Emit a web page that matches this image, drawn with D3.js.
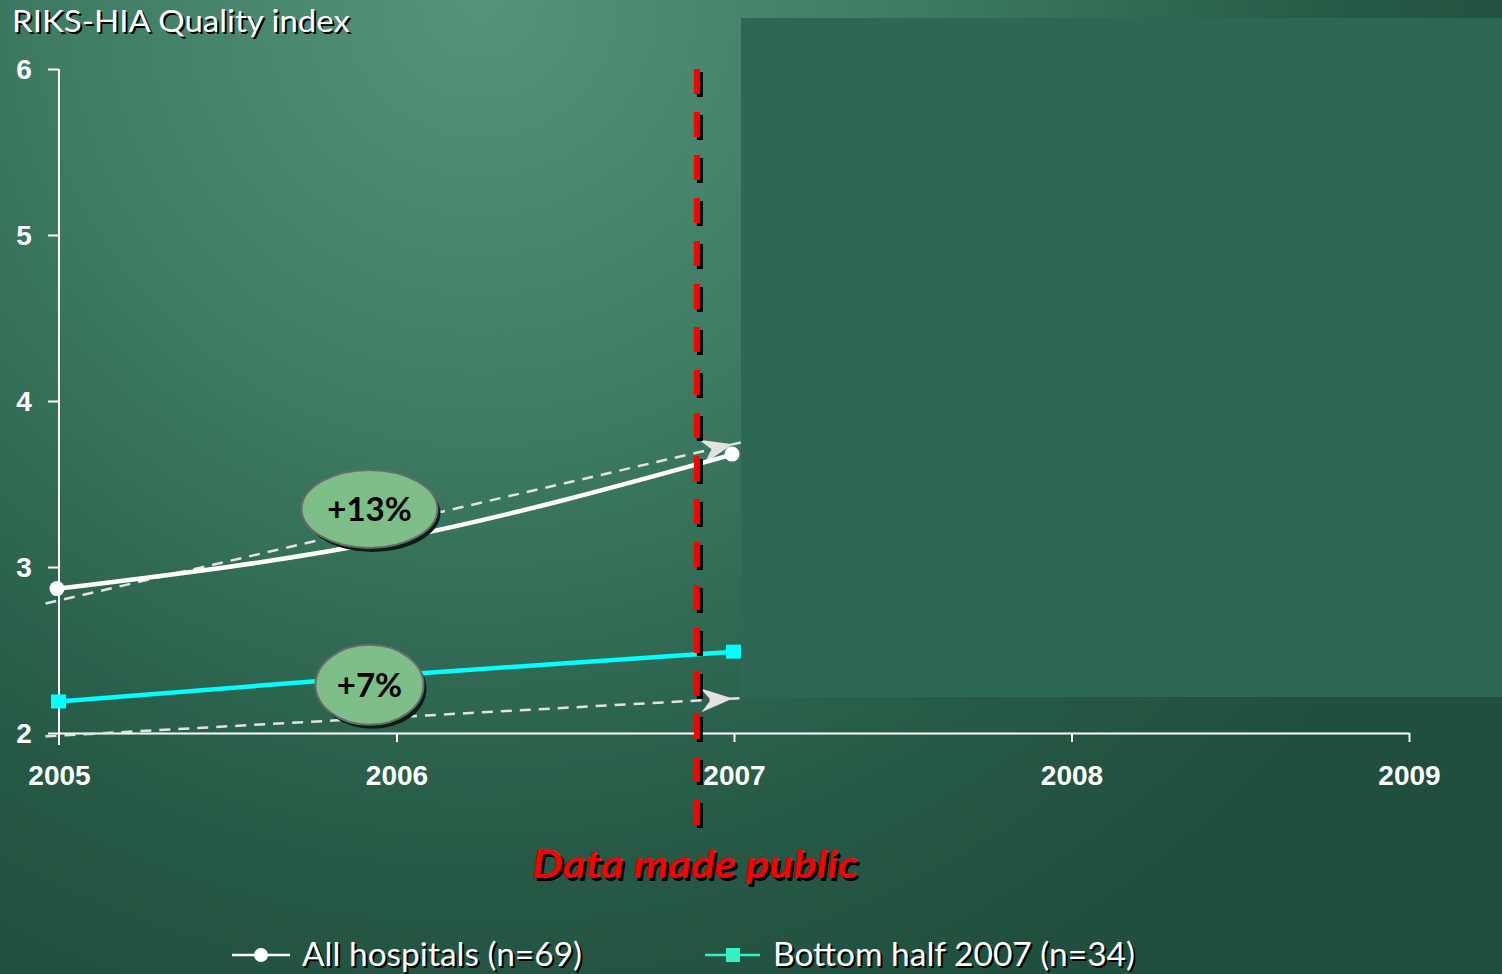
<!DOCTYPE html>
<html>
<head>
<meta charset="utf-8">
<script src="https://cdn.jsdelivr.net/npm/d3@7/dist/d3.min.js"></script>
<style>
  html, body { margin: 0; padding: 0; background: #22533f; }
  svg { display: block; }
</style>
</head>
<body>
<div class="qualityChart"></div>
<script>
// data
var years        = [2005, 2006, 2007];
var allHospitals = [2.87, 3.17, 3.68];
var bottomHalf   = [2.19, 2.35, 2.49];
var trendYears   = [2004.96, 2007.02];
var trendAll     = [2.78, 3.75];
var trendBottom  = [1.98, 2.21];
var xTicks       = [2005, 2006, 2007, 2008, 2009];
var yTicks       = [2, 3, 4, 5, 6];
var publicYear   = 2006.89;
var badges       = [{ label: "+13%", year: 2005.92, value: 3.35, rx: 68, ry: 39 },
                    { label: "+7%",  year: 2005.92, value: 2.29, rx: 54, ry: 40 }];
var legendLabels = ["All hospitals (n=69)", "Bottom half 2007 (n=34)"];

var W = 1502, H = 974;

var svg = d3.select(".qualityChart")
    .append("svg")
    .attr("width", W)
    .attr("height", H);

var defs = svg.append("defs");
var bg = defs.append("radialGradient")
    .attr("id", "bg")
    .attr("gradientUnits", "userSpaceOnUse")
    .attr("cx", 480).attr("cy", 0).attr("r", 1100);
bg.append("stop").attr("offset", "0%").attr("stop-color", "#55937a");
bg.append("stop").attr("offset", "40%").attr("stop-color", "#3d7b62");
bg.append("stop").attr("offset", "78%").attr("stop-color", "#265a46");
bg.append("stop").attr("offset", "100%").attr("stop-color", "#204f3d");

defs.append("marker")
    .attr("id", "arrow")
    .attr("markerUnits", "userSpaceOnUse")
    .attr("viewBox", "-34 -14 44 28")
    .attr("markerWidth", 44).attr("markerHeight", 28)
    .attr("refX", 8).attr("refY", 0)
    .attr("orient", "auto")
    .append("path")
    .attr("d", "M0,0 L-32,-12 L-22,0 L-32,12 Z")
    .attr("fill", "#e2e2e2");

svg.append("rect").attr("width", W).attr("height", H).attr("fill", "url(#bg)");

var x = d3.scaleLinear().domain([2005, 2009]).range([59, 1409]);
var y = d3.scaleLinear().domain([2, 6]).range([733, 69]);

// shadowed text helper
function shadowText(g, txt, px, py, opts)
{
    var dx = opts.shadow || 2;
    [["#000", dx], [opts.fill, 0]].forEach(function (s)
    {
        var t = g.append("text")
            .attr("x", px + s[1]).attr("y", py + s[1])
            .attr("fill", s[0])
            .attr("font-family", opts.family)
            .attr("font-size", opts.size)
            .attr("font-weight", opts.weight || "normal")
            .attr("font-style", opts.style || "normal")
            .attr("text-anchor", opts.anchor || "start")
            .text(txt);
        if (opts.len) t.attr("textLength", opts.len).attr("lengthAdjust", "spacingAndGlyphs");
    });
}

shadowText(svg, "RIKS-HIA Quality index", 12, 32,
    { fill: "#fff", family: "Lato, sans-serif", size: 31, len: 338, shadow: 2 });

// axes
var axisG = svg.append("g");
var yAxis = axisG.append("g")
    .attr("transform", "translate(" + x(2005) + ",0)")
    .call(d3.axisLeft(y).tickValues(yTicks).tickSize(11).tickFormat(d3.format("d")));
yAxis.select(".domain").remove();
axisG.append("line")
    .attr("x1", x(2005)).attr("x2", x(2005))
    .attr("y1", y(6)).attr("y2", y(2) + 12)
    .attr("stroke", "#fff").attr("stroke-width", 2);
yAxis.selectAll(".tick line").attr("stroke", "#fff").attr("stroke-width", 2);
yAxis.selectAll(".tick text")
    .attr("x", -35).attr("dy", "0.35em")
    .attr("fill", "#fff")
    .attr("font-family", "Liberation Sans, Arial, sans-serif")
    .attr("font-weight", "bold")
    .attr("font-size", 28)
    .attr("text-anchor", "middle");

var xAxis = axisG.append("g")
    .attr("transform", "translate(0," + y(2) + ")")
    .call(d3.axisBottom(x).tickValues(xTicks).tickSize(9).tickSizeOuter(0).tickFormat(d3.format("d")));
xAxis.select(".domain").attr("stroke", "#fff").attr("stroke-width", 2);
xAxis.selectAll(".tick line").attr("stroke", "#fff").attr("stroke-width", 2);
xAxis.selectAll(".tick").filter(function (d) { return d === 2005; }).select("line").remove();
xAxis.selectAll(".tick text")
    .attr("y", 52).attr("dy", 0)
    .attr("fill", "#fff")
    .attr("font-family", "Liberation Sans, Arial, sans-serif")
    .attr("font-weight", "bold")
    .attr("font-size", 28);

// dashed trend arrows
[trendAll, trendBottom].forEach(function (vals)
{
    svg.append("path")
        .datum(trendYears.map(function (yr, i) { return [yr, vals[i]]; }))
        .attr("d", d3.line().x(function (d) { return x(d[0]); }).y(function (d) { return y(d[1]); }))
        .attr("fill", "none")
        .attr("stroke", "#e2e2e2")
        .attr("stroke-width", 2.5)
        .attr("stroke-dasharray", "11,8")
        .attr("marker-end", "url(#arrow)");
});

// series lines
var lineGen = d3.line()
    .x(function (d) { return x(d[0]); })
    .y(function (d) { return y(d[1]); })
    .curve(d3.curveMonotoneX);

svg.append("path")
    .datum(years.map(function (yr, i) { return [yr, allHospitals[i]]; }))
    .attr("d", lineGen)
    .attr("fill", "none").attr("stroke", "#fff").attr("stroke-width", 4.5);

svg.append("path")
    .datum(years.map(function (yr, i) { return [yr, bottomHalf[i]]; }))
    .attr("d", d3.line().x(function (d) { return x(d[0]); }).y(function (d) { return y(d[1]); }))
    .attr("fill", "none").attr("stroke", "#00ffff").attr("stroke-width", 4.5);

var ends = [0, years.length - 1];
svg.selectAll(".dotAll")
    .data(ends)
    .enter().append("circle")
    .attr("cx", function (i) { return x(years[i]) - 2; })
    .attr("cy", function (i) { return y(allHospitals[i]); })
    .attr("r", 7.5)
    .attr("fill", "#fff");

svg.selectAll(".sqBottom")
    .data(ends)
    .enter().append("rect")
    .attr("x", function (i) { return x(years[i]) - 8; })
    .attr("y", function (i) { return y(bottomHalf[i]) - 7; })
    .attr("width", 15).attr("height", 14)
    .attr("fill", "#00ffff");

// badges
badges.forEach(function (b)
{
    var cx = x(b.year), cy = y(b.value);
    svg.append("ellipse")
        .attr("cx", cx + 3).attr("cy", cy + 4)
        .attr("rx", b.rx).attr("ry", b.ry)
        .attr("fill", "#0a1f16");
    svg.append("ellipse")
        .attr("cx", cx).attr("cy", cy)
        .attr("rx", b.rx).attr("ry", b.ry)
        .attr("fill", "#7dbe89")
        .attr("stroke", "#6a6a6a").attr("stroke-width", 2);
    svg.append("text")
        .attr("x", cx).attr("y", cy + 12)
        .attr("text-anchor", "middle")
        .attr("font-family", "Lato, sans-serif")
        .attr("font-weight", "bold")
        .attr("font-size", 33)
        .attr("fill", "#000")
        .text(b.label);
});

// overlay that hides the later years
svg.append("rect")
    .attr("x", 741).attr("y", 18)
    .attr("width", W - 741).attr("height", 679)
    .attr("fill", "#2e6855");

// data made public marker
var px = x(publicYear);
svg.append("line")
    .attr("x1", px + 3).attr("x2", px + 3).attr("y1", y(6) + 3).attr("y2", 843)
    .attr("stroke", "#000").attr("stroke-width", 6).attr("stroke-dasharray", "25,18");
svg.append("line")
    .attr("x1", px).attr("x2", px).attr("y1", y(6)).attr("y2", 840)
    .attr("stroke", "#ff0000").attr("stroke-width", 6).attr("stroke-dasharray", "25,18");

shadowText(svg, "Data made public", px - 2, 878,
    { fill: "#ff0000", family: "Lato, sans-serif", size: 38, weight: "bold", style: "italic",
      anchor: "middle", len: 326, shadow: 3 });

// legend
var leg = svg.append("g");
leg.append("line").attr("x1", 232).attr("x2", 290).attr("y1", 955).attr("y2", 955)
    .attr("stroke", "#fff").attr("stroke-width", 2.5);
leg.append("circle").attr("cx", 261).attr("cy", 955).attr("r", 7).attr("fill", "#fff");
shadowText(leg, legendLabels[0], 302, 966,
    { fill: "#fff", family: "Liberation Sans Narrow, Lato, sans-serif", size: 33, len: 280, shadow: 2 });

leg.append("line").attr("x1", 705).attr("x2", 760).attr("y1", 955).attr("y2", 955)
    .attr("stroke", "#33f2c6").attr("stroke-width", 2.5);
leg.append("rect").attr("x", 726).attr("y", 948).attr("width", 14).attr("height", 14).attr("fill", "#33f2c6");
shadowText(leg, legendLabels[1], 773, 966,
    { fill: "#fff", family: "Liberation Sans Narrow, Lato, sans-serif", size: 33, len: 362, shadow: 2 });
</script>
</body>
</html>
